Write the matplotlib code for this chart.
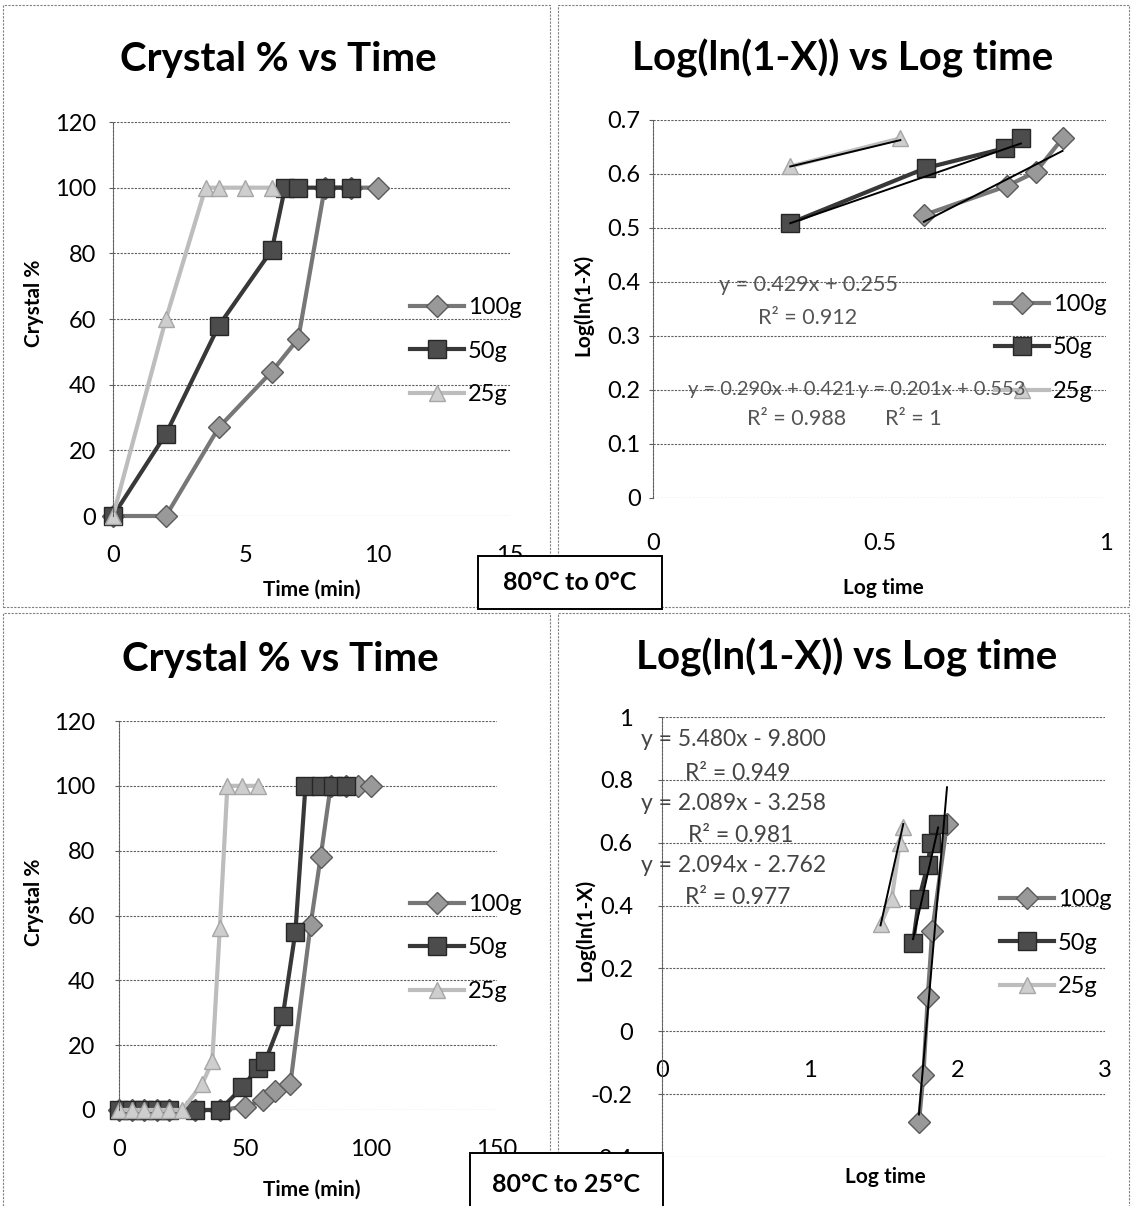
import matplotlib
matplotlib.use("Agg")
import matplotlib.pyplot as plt
from matplotlib.patches import Rectangle

plt.rcParams["font.family"] = ["Lato", "DejaVu Sans"]

# ---- 80 C to 0 C: crystal % vs time (min) ----
cool0_t100 = [0, 2, 4, 6, 7, 8, 9, 10]
cool0_c100 = [0, 0, 27, 44, 54, 100, 100, 100]
cool0_t50 = [0, 2, 4, 6, 6.5, 7, 8, 9]
cool0_c50 = [0, 25, 58, 81, 100, 100, 100, 100]
cool0_t25 = [0, 2, 3.5, 4, 5, 6]
cool0_c25 = [0, 60, 100, 100, 100, 100]

# ---- 80 C to 0 C: log(ln(1-X)) vs log time ----
log0_x100 = [0.598, 0.782, 0.845, 0.904]
log0_y100 = [0.524, 0.578, 0.604, 0.666]
log0_x50 = [0.303, 0.602, 0.778, 0.812]
log0_y50 = [0.509, 0.611, 0.648, 0.666]
log0_x25 = [0.303, 0.546]
log0_y25 = [0.614, 0.666]
fit0_slope = [0.429, 0.290, 0.201]      # 100g, 50g, 25g
fit0_icpt = [0.255, 0.421, 0.553]

# ---- 80 C to 25 C: crystal % vs time (min) ----
cool25_t100 = [0, 5, 10, 15, 20, 30, 40, 50, 57, 62, 68, 76, 80, 84, 90, 95, 100]
cool25_c100 = [0, 0, 0, 0, 0, 0, 0, 1, 3, 6, 8, 57, 78, 100, 100, 100, 100]
cool25_t50 = [0, 5, 10, 15, 20, 30, 40, 49, 55, 58, 65, 70, 74, 80, 85, 90]
cool25_c50 = [0, 0, 0, 0, 0, 0, 0, 7, 13, 15, 29, 55, 100, 100, 100, 100]
cool25_t25 = [0, 5, 10, 15, 20, 25, 33, 37, 40, 43, 49, 55]
cool25_c25 = [0, 0, 0, 0, 0, 0, 8, 15, 56, 100, 100, 100]

# ---- 80 C to 25 C: log(ln(1-X)) vs log time ----
log25_x100 = [1.74, 1.77, 1.80, 1.83, 1.93]
log25_y100 = [-0.29, -0.14, 0.11, 0.32, 0.66]
log25_x50 = [1.70, 1.74, 1.80, 1.82, 1.87]
log25_y50 = [0.28, 0.42, 0.53, 0.60, 0.66]
log25_x25 = [1.48, 1.555, 1.61, 1.634]
log25_y25 = [0.34, 0.42, 0.60, 0.65]
fit25_slope = [5.480, 2.089, 2.094]
fit25_icpt = [-9.800, -3.258, -2.762]

series_names = ["100g", "50g", "25g"]

time0_ticks = [0, 5, 10, 15]
time25_ticks = [0, 50, 100, 150]
pct_ticks = [0, 20, 40, 60, 80, 100, 120]
log0_xticks = [0, 0.5, 1]
log0_xlabels = ["0", "0.5", "1"]
log0_yticks = [0, 0.1, 0.2, 0.3, 0.4, 0.5, 0.6, 0.7]
log0_ylabels = ["0", "0.1", "0.2", "0.3", "0.4", "0.5", "0.6", "0.7"]
log25_xticks = [0, 1, 2, 3]
log25_yticks = [-0.4, -0.2, 0, 0.2, 0.4, 0.6, 0.8, 1]
log25_ylabels = ["-0.4", "-0.2", "0", "0.2", "0.4", "0.6", "0.8", "1"]

W, H = 1132, 1206
STYLES = {
    "100g": dict(color="#777777", marker="D", ms=11, mfc="#999999", mec="#5a5a5a"),
    "50g": dict(color="#383838", marker="s", ms=13, mfc="#4c4c4c", mec="#262626"),
    "25g": dict(color="#bdbdbd", marker="^", ms=12, mfc="#cecece", mec="#a6a6a6"),
}
GRID = dict(color="#5e5e5e", lw=0.8, ls=(0, (2, 1.2)))


def px_rect(x0, y0, x1, y1):
    return [x0 / W, 1 - y1 / H, (x1 - x0) / W, (y1 - y0) / H]


def px_text(fig, x, y, s, **kw):
    kw.setdefault("ha", "center")
    kw.setdefault("va", "center")
    return fig.text(x / W, 1 - y / H, s, **kw)


def style_axes(ax, xticks, yticks, ylabels, xpad, ypad):
    ax.set_xlim(xticks[0], xticks[-1])
    ax.set_ylim(yticks[0], yticks[-1])
    ax.set_xticks(xticks)
    ax.set_yticks(yticks)
    if ylabels is not None:
        ax.set_yticklabels(ylabels)
    ax.yaxis.grid(True, **GRID)
    ax.set_axisbelow(True)
    for side in ["top", "right", "bottom"]:
        ax.spines[side].set_visible(False)
    ax.spines["left"].set_color("#5e5e5e")
    ax.spines["left"].set_linewidth(0.8)
    ax.spines["left"].set_linestyle((0, (2, 1.2)))
    ax.tick_params(axis="x", length=0, pad=xpad, labelsize=17)
    ax.tick_params(axis="y", length=3, width=0.8, color="#5e5e5e", pad=ypad, labelsize=17)


def add_legend(ax, handles, x, y):
    ax.legend(handles, series_names, loc="center left",
              bbox_to_anchor=(x / W, 1 - y / H), bbox_transform=ax.figure.transFigure,
              frameon=False, fontsize=17, handlelength=2.3, handletextpad=0.15,
              labelspacing=0.95, borderpad=0, borderaxespad=0)


fig = plt.figure(figsize=(W / 100, H / 100), dpi=100)

# panel frames
for x0, y0, x1, y1 in [(3, 5, 550, 607), (558, 5, 1129, 607), (3, 613, 550, 1215), (558, 613, 1129, 1215)]:
    fig.add_artist(Rectangle((x0 / W, 1 - y1 / H), (x1 - x0) / W, (y1 - y0) / H,
                             transform=fig.transFigure, fill=False, ec="#808080",
                             lw=0.8, ls=(0, (2, 1.2))))

# ---------- top left ----------
ax1 = fig.add_axes(px_rect(113, 122, 510, 516))
h = []
for t, c, name in [(cool0_t100, cool0_c100, "100g"), (cool0_t50, cool0_c50, "50g"), (cool0_t25, cool0_c25, "25g")]:
    h.append(ax1.plot(t, c, lw=3, clip_on=False, **STYLES[name])[0])
style_axes(ax1, time0_ticks, pct_ticks, None, xpad=21, ypad=9)
add_legend(ax1, h, 410, 351)
px_text(fig, 278, 60, "Crystal % vs Time", fontsize=29, fontweight="bold")
px_text(fig, 312, 590, "Time (min)", fontsize=15, fontweight="bold")
px_text(fig, 34, 303, "Crystal %", fontsize=15, fontweight="bold", rotation=90)

# ---------- top right ----------
ax2 = fig.add_axes(px_rect(653, 120, 1106, 498))
h = []
for x, y, name, k in [(log0_x100, log0_y100, "100g", 0), (log0_x50, log0_y50, "50g", 1), (log0_x25, log0_y25, "25g", 2)]:
    h.append(ax2.plot(x, y, lw=3, clip_on=False, **STYLES[name])[0])
    xs = [min(x), max(x)]
    ax2.plot(xs, [fit0_slope[k] * v + fit0_icpt[k] for v in xs], color="black", lw=1.4, zorder=4)
style_axes(ax2, log0_xticks, log0_yticks, log0_ylabels, xpad=25, ypad=6)
ax2.set_xticklabels(log0_xlabels)
add_legend(ax2, h, 995, 348)
px_text(fig, 843, 58, "Log(ln(1-X)) vs Log time", fontsize=29, fontweight="bold")
px_text(fig, 883, 588, "Log time", fontsize=15, fontweight="bold")
px_text(fig, 583, 305, "Log(ln(1-X)", fontsize=15, fontweight="bold", rotation=90)
eq_kw = dict(fontsize=15.5, color="#555555")
px_text(fig, 808, 285, "y = 0.429x + 0.255", **eq_kw)
px_text(fig, 808, 318, "R² = 0.912", **eq_kw)
px_text(fig, 797, 419, "R² = 0.988", **eq_kw)
px_text(fig, 913, 419, "R² = 1", **eq_kw)
# the 50g and 25g equations share one line in the original
eq_kw = dict(fontsize=14.5, color="#555555")
eq_a = px_text(fig, 688, 390, "y = 0.290x + 0.421", ha="left", **eq_kw)
fig.canvas.draw()
right_px = eq_a.get_window_extent().x1
fig.text((right_px + 3) / W, 1 - 390 / H, "y = 0.201x + 0.553", ha="left", va="center", **eq_kw)

# ---------- bottom left ----------
ax3 = fig.add_axes(px_rect(119, 721, 497, 1110))
h = []
for t, c, name in [(cool25_t100, cool25_c100, "100g"), (cool25_t50, cool25_c50, "50g"), (cool25_t25, cool25_c25, "25g")]:
    h.append(ax3.plot(t, c, lw=3, clip_on=False, **STYLES[name])[0])
style_axes(ax3, time25_ticks, pct_ticks, None, xpad=21, ypad=14)
add_legend(ax3, h, 410, 948)
px_text(fig, 280, 660, "Crystal % vs Time", fontsize=29, fontweight="bold")
px_text(fig, 312, 1190, "Time (min)", fontsize=15, fontweight="bold")
px_text(fig, 34, 902, "Crystal %", fontsize=15, fontweight="bold", rotation=90)

# ---------- bottom right ----------
ax4 = fig.add_axes(px_rect(662, 717, 1105, 1157))
h = []
for x, y, name, k in [(log25_x100, log25_y100, "100g", 0), (log25_x50, log25_y50, "50g", 1), (log25_x25, log25_y25, "25g", 2)]:
    h.append(ax4.plot(x, y, lw=3, clip_on=False, **STYLES[name])[0])
    xs = [min(x), max(x)]
    ax4.plot(xs, [fit25_slope[k] * v + fit25_icpt[k] for v in xs], color="black", lw=1.4, zorder=4)
style_axes(ax4, log25_xticks, log25_yticks, log25_ylabels, xpad=21, ypad=18)
ax4.spines["bottom"].set_position(("data", 0))
add_legend(ax4, h, 1000, 943)
px_text(fig, 847, 657, "Log(ln(1-X)) vs Log time", fontsize=29, fontweight="bold")
px_text(fig, 885, 1177, "Log time", fontsize=15, fontweight="bold")
px_text(fig, 585, 930, "Log(ln(1-X)", fontsize=15, fontweight="bold", rotation=90)
eq_kw = dict(fontsize=16.5, color="#444444", ha="left")
px_text(fig, 641, 740, "y = 5.480x - 9.800", **eq_kw)
px_text(fig, 685, 773, "R² = 0.949", **eq_kw)
px_text(fig, 641, 803, "y = 2.089x - 3.258", **eq_kw)
px_text(fig, 688, 836, "R² = 0.981", **eq_kw)
px_text(fig, 641, 865, "y = 2.094x - 2.762", **eq_kw)
px_text(fig, 685, 897, "R² = 0.977", **eq_kw)

# ---------- condition boxes ----------
for x0, y0, x1, y1, ty, label in [(478, 556, 662, 609, 582, "80°C to 0°C"),
                                  (470, 1153, 663, 1215, 1185, "80°C to 25°C")]:
    fig.add_artist(Rectangle((x0 / W, 1 - y1 / H), (x1 - x0) / W, (y1 - y0) / H,
                             transform=fig.transFigure, fc="white", ec="black", lw=1.4, zorder=5))
    px_text(fig, (x0 + x1) / 2, ty, label, fontsize=18, fontweight="bold", zorder=6)

fig.savefig("out.png", dpi=100)
